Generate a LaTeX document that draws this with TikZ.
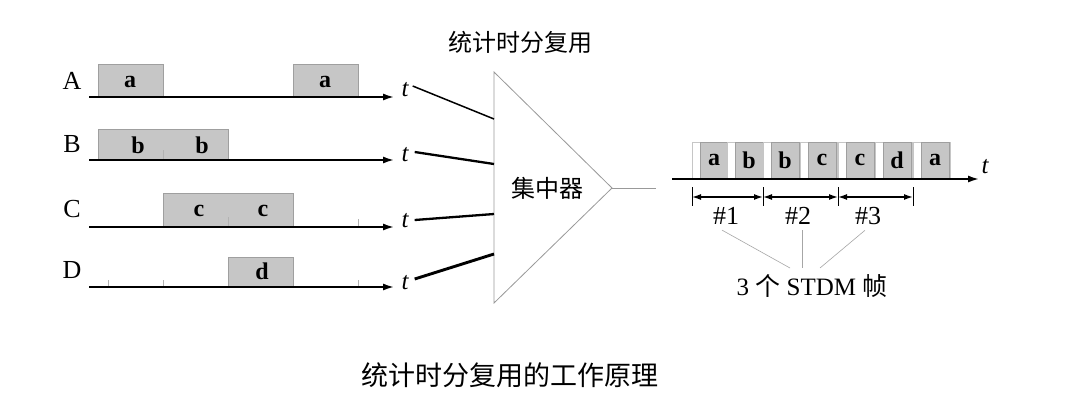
\documentclass[tikz,border=0pt]{standalone}
\usepackage{fontspec}
\setmainfont{Liberation Serif}
\newfontfamily\cjk{Noto Sans CJK SC}
\usetikzlibrary{arrows.meta}
\begin{document}
\begin{tikzpicture}[x=1pt,y=-1pt,
  axis/.style={line width=2.5pt,-{Latex[length=12pt,width=7pt]}},
  slot/.style={draw=gray!75,line width=0.6pt,fill=gray!45,inner sep=0pt},
  whiteslot/.style={draw=gray!45,line width=0.5pt,fill=white},
  lab/.style={font=\fontsize{26}{26}\selectfont},
  boxtxt/.style={font=\fontsize{24}{24}\selectfont\bfseries},
  tlab/.style={font=\fontsize{25}{25}\selectfont\itshape,inner sep=0pt},
  inl/.style={line width=2.3pt},
  tick/.style={gray!60,line width=0.5pt},
  thinl/.style={gray!70,line width=0.6pt},
  dim/.style={line width=1.4pt,{Latex[length=9pt,width=6pt]}-{Latex[length=9pt,width=6pt]}},
  cjkt/.style={font=\fontsize{24}{24}\selectfont\cjk}
]
\useasboundingbox (0,0) rectangle (1076,408);
\fill[white] (0,0) rectangle (1076,408);

% ---------- left timelines ----------
% row A
\node[lab] (A) at (72,81) {A};
\coordinate (a0) at (89,97); \coordinate (a1) at (395,97);
\filldraw[slot] (98,64) rectangle (163,97);
\filldraw[slot] (293,64) rectangle (358,97);
\node[boxtxt] (ta1) at (130,82) {a};
\node[boxtxt] (ta2) at (325,82) {a};
\draw[axis] (a0) -- (a1);
\node[tlab] (tA) at (405,90) {t};

% row B
\node[lab] (B) at (72,144) {B};
\coordinate (b0) at (89,160); \coordinate (b1) at (395,160);
\filldraw[slot] (98,129) rectangle (228,160);
\draw[tick] (163,150) -- (163,160);
\node[boxtxt] (tb1) at (138,145) {b};
\node[boxtxt] (tb2) at (202,145) {b};
\draw[axis] (b0) -- (b1);
\node[tlab] (tB) at (405,155) {t};

% row C
\node[lab] (C) at (72,209) {C};
\coordinate (c0) at (89,227); \coordinate (c1) at (395,227);
\filldraw[slot] (163,193) rectangle (293,227);
\draw[tick] (228,217) -- (228,227);
\draw[tick] (358,219) -- (358,227);
\node[boxtxt] (tc1) at (199,211) {c};
\node[boxtxt] (tc2) at (263,211) {c};
\draw[axis] (c0) -- (c1);
\node[tlab] (tC) at (405,221) {t};

% row D
\node[lab] (D) at (72,270) {D};
\coordinate (d0) at (89,287); \coordinate (d1) at (395,287);
\filldraw[slot] (228,257) rectangle (293,287);
\draw[tick] (108,280) -- (108,287);
\draw[tick] (163,280) -- (163,287);
\draw[tick] (358,280) -- (358,287);
\node[boxtxt] (td1) at (262,271) {d};
\draw[axis] (d0) -- (d1);
\node[tlab] (tD) at (405,283) {t};

% ---------- concentrator ----------
\node[cjkt] (title) at (520,42) {统计时分复用};
\coordinate (T1) at (494,72);
\coordinate (T2) at (612,188);
\coordinate (T3) at (494,303);
\draw[gray!80,line width=0.8pt] (T1) -- (T2) -- (T3) -- cycle;
\node[cjkt] (conc) at (547,188) {集中器};
\coordinate (e1) at (494,119);
\coordinate (e2) at (494,164);
\coordinate (e3) at (494,214);
\coordinate (e4) at (494,254);
\draw[line width=1.5pt] ([xshift=4pt,yshift=4pt]tA.east) -- (e1);
\draw[inl] ([xshift=6pt,yshift=3pt]tB.east) -- (e2);
\draw[inl] ([xshift=6pt,yshift=1pt]tC.east) -- (e3);
\draw[line width=2.9pt] ([xshift=6pt,yshift=4pt]tD.east) -- (e4);
\coordinate (out) at (656,188);
\draw[gray!80,line width=0.8pt] (T2) -- (out);

% ---------- output frame ----------
\coordinate (r0) at (672,179); \coordinate (r1) at (980,179);
\foreach \s/\l [count=\i] in {692/a,727/b,763/b,800/c,838/c,875/d,913/a}{
  \filldraw[whiteslot] (\s,142) rectangle (\s+37,179);
  \filldraw[slot] (\s+8,142) rectangle (\s+36,179);
  \node[boxtxt] (s\i) at (\s+22,160) {\l};
}
\draw[axis] (r0) -- (r1);
\node[tlab] (tR) at (985,167) {t};

% frame dimension arrows
\foreach \x [count=\i] in {692,763,838,913}{
  \draw[line width=0.6pt] (\x,187) -- (\x,206);
  \coordinate (k\i) at (\x,197);
}
\draw[dim] (k1) -- (k2);
\draw[dim] (k2) -- (k3);
\draw[dim] (k3) -- (k4);
\node[lab] (f1) at (726,216) {\#1};
\node[lab] (f2) at (798,216) {\#2};
\node[lab] (f3) at (868,216) {\#3};
\node[font=\fontsize{25}{25}\selectfont] (frames) at (812,286) {3 {\cjk 个} STDM {\cjk 帧}};
\coordinate (j1) at (790,268);
\coordinate (j2) at (802,268);
\coordinate (j3) at (820,268);
\draw[thinl] ([xshift=-4pt,yshift=-2pt]f1.south) -- (j1);
\draw[thinl] ([xshift=4pt,yshift=-2pt]f2.south) -- (j2);
\draw[thinl] ([xshift=-3pt,yshift=-2pt]f3.south) -- (j3);

% ---------- caption ----------
\node[font=\fontsize{27}{27}\selectfont\cjk] (cap) at (510,375) {统计时分复用的工作原理};
\end{tikzpicture}
\end{document}
